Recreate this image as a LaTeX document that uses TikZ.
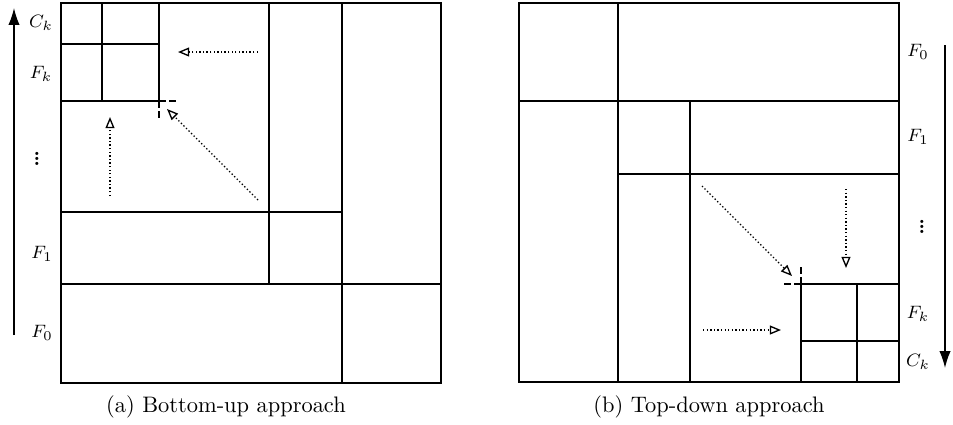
\documentclass[tikz,border=0pt]{standalone}
\usetikzlibrary{arrows.meta}
\newcommand{\smallvdots}{\vbox{\baselineskip=2.4pt\lineskiplimit=-20pt\hbox{.}\hbox{.}\hbox{.}}}
\begin{document}
\begin{tikzpicture}[x=0.446pt,y=-0.446pt,
  grid/.style={semithick},
  outer/.style={thick},
  corner/.style={semithick,dash pattern=on 3pt off 1.5pt},
  flow/.style={semithick,densely dotted,-{Triangle[open,length=5pt,width=4pt]}},
  bigarrow/.style={semithick,-{Latex[length=7.5pt,width=5pt]}},
  lab/.style={font=\footnotesize,inner sep=0pt},
  dotlab/.style={font=\small\bfseries,inner sep=0pt},
  captext/.style={inner sep=0pt}]
\useasboundingbox (0,0) rectangle (953,424);
% ---------- left panel ----------
\draw[grid] (61,284) -- (441,284);
\draw[grid] (342,3) -- (342,383);
\draw[grid] (61,212) -- (342,212);
\draw[grid] (269,3) -- (269,284);
\draw[outer] (61,212) rectangle (342,284);
\draw[grid] (102,3) -- (102,101);
\draw[grid] (61,44) -- (159,44);
\draw[outer] (61,3) rectangle (159,101);
\draw[outer] (61,3) rectangle (441,383);
\draw[corner] (159,101) -- (179,101);
\draw[corner] (159,101) -- (159,121);
\coordinate (a1s) at (258,52);  \coordinate (a1e) at (178,52);
\coordinate (a2s) at (110,196); \coordinate (a2e) at (110,117);
\coordinate (a3s) at (258,200); \coordinate (a3e) at (167,109);
\draw[flow] (a1s) -- (a1e);
\draw[flow] (a2s) -- (a2e);
\draw[flow] (a3s) -- (a3e);
\coordinate (upS) at (14,335); \coordinate (upE) at (14,8);
\draw[bigarrow] (upS) -- (upE);
\node[lab] (lck) at (41,23) {$C_k$};
\node[lab] (lfk) at (41,74) {$F_k$};
\node[dotlab] (ldots) at (37,159) {\smallvdots};
\node[lab] (lf1) at (42,254) {$F_1$};
\node[lab] (lf0) at (42,333) {$F_0$};
\node[captext] (capa) at (226,407) {(a) Bottom-up approach};
% ---------- right panel ----------
\draw[grid] (519,101) -- (899,101);
\draw[grid] (618,3) -- (618,382);
\draw[grid] (618,174) -- (899,174);
\draw[grid] (690,101) -- (690,382);
\draw[outer] (618,101) rectangle (899,174);
\draw[grid] (857,284) -- (857,382);
\draw[grid] (801,341) -- (899,341);
\draw[outer] (801,284) rectangle (899,382);
\draw[outer] (519,3) rectangle (899,382);
\draw[corner] (801,284) -- (782,284);
\draw[corner] (801,284) -- (801,265);
\coordinate (b1s) at (702,186); \coordinate (b1e) at (792,276);
\coordinate (b2s) at (846,189); \coordinate (b2e) at (846,268);
\coordinate (b3s) at (703,330); \coordinate (b3e) at (781,330);
\draw[flow] (b1s) -- (b1e);
\draw[flow] (b2s) -- (b2e);
\draw[flow] (b3s) -- (b3e);
\coordinate (dnS) at (945,45); \coordinate (dnE) at (945,368);
\draw[bigarrow] (dnS) -- (dnE);
\node[lab] (rf0) at (918,52) {$F_0$};
\node[lab] (rf1) at (918,137) {$F_1$};
\node[dotlab] (rdots) at (922,227) {\smallvdots};
\node[lab] (rfk) at (918,314) {$F_k$};
\node[lab] (rck) at (918,362) {$C_k$};
\node[captext] (capb) at (709,407) {(b) Top-down approach};
\end{tikzpicture}
\end{document}
